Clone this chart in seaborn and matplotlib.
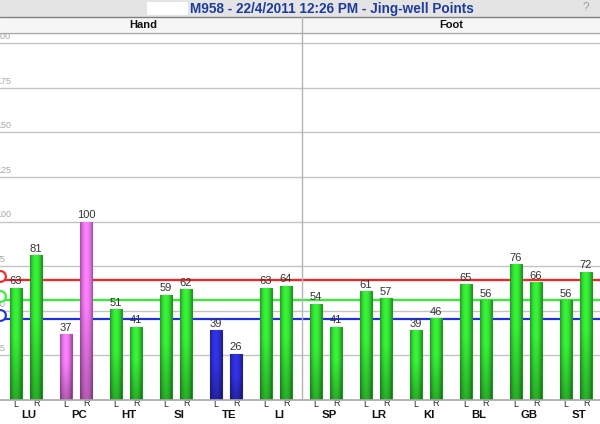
import numpy as np
import pandas as pd
import matplotlib
matplotlib.use("Agg")
import matplotlib.pyplot as plt
from matplotlib.lines import Line2D
from matplotlib.patches import Rectangle
import seaborn as sns

# data
meridians = ["LU", "PC", "HT", "SI", "TE", "LI", "SP", "LR", "KI", "BL", "GB", "ST"]
left_vals = [63, 37, 51, 59, 39, 63, 54, 61, 39, 65, 76, 56]
right_vals = [81, 100, 41, 62, 26, 64, 41, 57, 46, 56, 66, 72]
bar_colors = ["green", "magenta", "green", "green", "blue", "green",
              "green", "green", "green", "green", "green", "green"]
sections = ["Hand", "Foot"]
ref_levels = [67.3, 56.1, 45.4]
ref_colors = ["#ff2020", "#33ee33", "#2030e0"]
y_ticks = [25, 50, 75, 100, 125, 150, 175, 200]
title = "M958 - 22/4/2011 12:26 PM - Jing-well Points"

rgb = {"green": (0.22, 0.96, 0.22), "magenta": (1.0, 0.5, 1.0), "blue": (0.2, 0.2, 0.92)}

df = pd.DataFrame({
    "meridian": meridians * 2,
    "side": ["L"] * len(meridians) + ["R"] * len(meridians),
    "value": left_vals + right_vals,
})

sns.set_style("white")
plt.rcParams["font.family"] = ["Liberation Sans", "DejaVu Sans"]

W, H = 600, 424
fig = plt.figure(figsize=(6, 4.24), dpi=100)
fig.patch.set_facecolor("white")

# axes: baseline at pixel 400, top at pixel 33
ax = fig.add_axes([0, (H - 400) / H, 1, (400 - 33) / H])
ax.set_facecolor("white")

sns.barplot(data=df, x="meridian", y="value", hue="side", order=meridians,
            hue_order=["L", "R"], width=0.8, gap=0.4, errorbar=None,
            legend=False, ax=ax)

x_lo, x_hi = -0.52, 11.48
y_hi = (400 - 33) / 1.784
ax.set_xlim(x_lo, x_hi)
ax.set_ylim(0, y_hi)


def shade_bar(patch, base):
    x0, y0 = patch.get_x(), patch.get_y()
    w, h = patch.get_width(), patch.get_height()
    u = np.linspace(-1, 1, 30)
    hz = 1.0 - 0.38 * u ** 2
    v = np.linspace(0, 1, 80)
    vt = 0.72 + 0.28 * np.clip(v / 0.55, 0, 1)
    shade = vt[:, None] * hz[None, :]
    img = np.clip(np.array(base)[None, None, :] * shade[..., None], 0, 1)
    im = ax.imshow(img, extent=[x0, x0 + w, y0, y0 + h], origin="lower",
                   aspect="auto", interpolation="bilinear",
                   zorder=patch.get_zorder() + 0.1)
    im.set_clip_path(patch)


for cont in ax.containers:
    for i, patch in enumerate(cont):
        base = rgb[bar_colors[i]]
        patch.set_facecolor(base)
        patch.set_edgecolor(tuple(c * 0.6 for c in base))
        patch.set_linewidth(0.8)
        shade_bar(patch, base)
    ax.bar_label(cont, fontsize=8, color="#333333", padding=1)

ax.set_xlim(x_lo, x_hi)
ax.set_ylim(0, y_hi)
ax.set_aspect("auto")

# grid + reference lines (value labels sit half off the left edge, as in the source)
for t in y_ticks:
    ax.axhline(t, color="#c4c4c4", lw=1, zorder=0.3)
    ax.text(-4 / W, t + 1.2, str(t), transform=ax.get_yaxis_transform(),
            ha="left", va="bottom", fontsize=6.5, color="#a8a8a8")
for lvl, col in zip(ref_levels, ref_colors):
    ax.axhline(lvl, color=col, lw=1.6, zorder=0.5)
    ax.scatter([x_lo], [lvl + 2], s=60, facecolor="white", edgecolor=col,
               linewidth=1.5, zorder=4, clip_on=True)
ax.axhline(0, color="#a8a8a8", lw=1.2, zorder=5, clip_on=False)

ax.set_xlabel("")
ax.set_ylabel("")
ax.set_xticks([])
ax.set_yticks([])
sns.despine(ax=ax, left=True, bottom=True)

# L / R and meridian labels under the bars
for side, cont, dy in zip(["L", "R"], ax.containers, [-2.8, -2.2]):
    for patch in cont:
        xc = patch.get_x() + patch.get_width() / 2
        ax.text(xc, dy, side, ha="center", va="center", fontsize=6.5,
                color="#222222", clip_on=False)
for i, m in enumerate(meridians):
    ax.text(i + 0.06, -8.2, m, ha="center", va="center", fontsize=8.2,
            fontweight="bold", color="#111111", clip_on=False)

# title bar and section header
fig.add_artist(Rectangle((0, (H - 17) / H), 1, 17 / H, transform=fig.transFigure,
                         facecolor="#e4e4e4", edgecolor="none", zorder=1))
fig.add_artist(Rectangle((0, (H - 32) / H), 1, 15 / H, transform=fig.transFigure,
                         facecolor="#f6f6f6", edgecolor="none", zorder=1))
fig.add_artist(Line2D([0, 1], [(H - 17) / H] * 2, color="#808080", lw=1, zorder=2))
fig.add_artist(Line2D([0, 1], [(H - 32.5) / H] * 2, color="#a8a8a8", lw=1, zorder=2))
fig.add_artist(Line2D([302 / W] * 2, [(H - 17) / H, (H - 400) / H],
                      color="#b4b4b4", lw=1, zorder=2))
fig.add_artist(Rectangle((147 / W, (H - 15) / H), 41 / W, 13 / H,
                         transform=fig.transFigure, facecolor="white",
                         edgecolor="none", zorder=2))
fig.text(190 / W, (H - 8.5) / H, title, ha="left", va="center", fontsize=9.8,
         fontweight="bold", color="#1f3c9c", zorder=3)
fig.text(586 / W, (H - 8) / H, "?", ha="center", va="center", fontsize=8.5,
         color="#a0a0a0", zorder=3)
for name, xc in zip(sections, [143, 451]):
    fig.text(xc / W, (H - 25) / H, name, ha="center", va="center", fontsize=8,
             fontweight="bold", color="#111111", zorder=3)

fig.savefig("out.png", dpi=100)
